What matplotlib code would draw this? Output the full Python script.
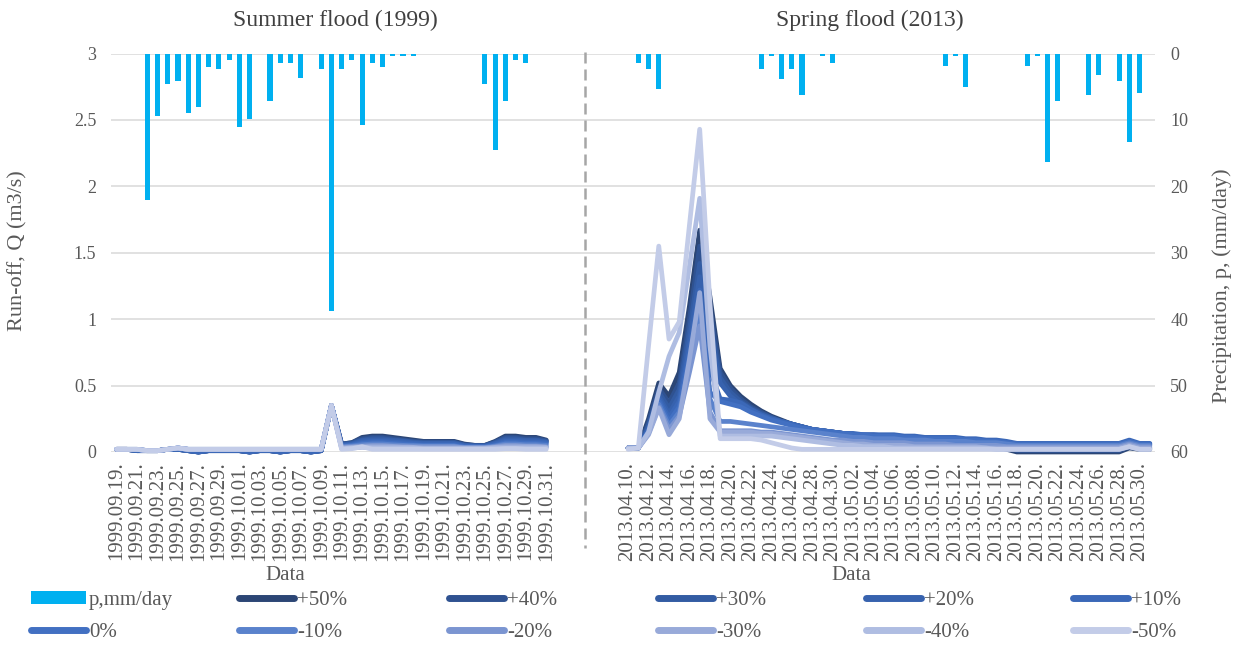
import numpy as np
import pandas as pd
import matplotlib
matplotlib.use("Agg")
import matplotlib.pyplot as plt
from matplotlib.lines import Line2D
from matplotlib.patches import Patch
from matplotlib.ticker import FuncFormatter

plt.rcParams['font.family'] = ['Liberation Serif', 'DejaVu Serif']

# Daily dates of the two flood events
dates_1999 = pd.date_range('1999-09-19', '1999-10-31', freq='D')
dates_2013 = pd.date_range('2013-04-10', '2013-05-31', freq='D')

# Daily precipitation, mm/day
p_1999 = [0, 0, 0, 22.1, 9.4, 4.6, 4.2, 8.9, 8.0, 2.0, 2.4, 1.0, 11.1, 9.8, 0, 7.2, 1.5, 1.5, 3.7, 0, 2.4,
          38.7, 2.4, 1.0, 10.7, 1.5, 2.0, 0.3, 0.3, 0.3, 0, 0, 0, 0, 0, 0, 4.6, 14.6, 7.2, 1.0, 1.5, 0, 0]
p_2013 = [0, 1.5, 2.4, 5.4, 0, 0, 0, 0, 0, 0, 0, 0, 0, 2.4, 0.3, 3.8, 2.4, 6.3, 0, 0.3, 1.5, 0, 0, 0, 0, 0,
          0, 0, 0, 0, 0, 1.9, 0.3, 5.0, 0, 0, 0, 0, 0, 1.9, 0.3, 16.3, 7.2, 0, 0, 6.3, 3.2, 0, 4.1, 13.3, 5.9, 0]

# Run-off Q (m3/s) for the precipitation change scenarios, summer flood 1999
q99_p50 = [0.02, 0.02, 0.01, 0.01, 0.01, 0.02, 0.02, 0.01, 0.00, 0.01, 0.01, 0.01, 0.01, 0.00, 0.01, 0.01, 0.00, 0.01, 0.01, 0.00, 0.01,
           0.35, 0.06, 0.07, 0.11, 0.12, 0.12, 0.11, 0.10, 0.09, 0.08, 0.08, 0.08, 0.08, 0.06, 0.05, 0.05, 0.08, 0.12, 0.12, 0.11, 0.11, 0.09]
q99_p40 = [0.02, 0.02, 0.01, 0.01, 0.01, 0.02, 0.02, 0.01, 0.00, 0.01, 0.01, 0.01, 0.01, 0.00, 0.01, 0.01, 0.00, 0.01, 0.01, 0.00, 0.01,
           0.35, 0.06, 0.07, 0.10, 0.11, 0.11, 0.10, 0.09, 0.08, 0.075, 0.075, 0.075, 0.075, 0.055, 0.05, 0.05, 0.075, 0.11, 0.11, 0.10, 0.10, 0.085]
q99_p30 = [0.02, 0.02, 0.01, 0.01, 0.01, 0.02, 0.02, 0.01, 0.00, 0.01, 0.01, 0.01, 0.01, 0.00, 0.01, 0.01, 0.00, 0.01, 0.01, 0.00, 0.01,
           0.35, 0.055, 0.065, 0.09, 0.10, 0.10, 0.09, 0.085, 0.075, 0.07, 0.07, 0.07, 0.07, 0.05, 0.045, 0.045, 0.07, 0.10, 0.10, 0.09, 0.09, 0.08]
q99_p20 = [0.02, 0.02, 0.01, 0.01, 0.01, 0.02, 0.02, 0.01, 0.00, 0.01, 0.01, 0.01, 0.01, 0.00, 0.01, 0.01, 0.00, 0.01, 0.01, 0.00, 0.01,
           0.35, 0.05, 0.06, 0.085, 0.09, 0.09, 0.085, 0.08, 0.07, 0.065, 0.065, 0.065, 0.065, 0.05, 0.045, 0.045, 0.065, 0.09, 0.09, 0.085, 0.085, 0.075]
q99_p10 = [0.02, 0.02, 0.01, 0.01, 0.01, 0.02, 0.02, 0.01, 0.00, 0.01, 0.01, 0.01, 0.01, 0.00, 0.01, 0.01, 0.00, 0.01, 0.01, 0.00, 0.01,
           0.35, 0.05, 0.055, 0.075, 0.08, 0.08, 0.075, 0.07, 0.065, 0.06, 0.06, 0.06, 0.06, 0.045, 0.04, 0.04, 0.06, 0.08, 0.08, 0.075, 0.075, 0.07]
q99_0 = [0.02, 0.02, 0.02, 0.01, 0.01, 0.02, 0.03, 0.02, 0.02, 0.02, 0.02, 0.02, 0.02, 0.02, 0.02, 0.02, 0.02, 0.02, 0.02, 0.02, 0.02,
         0.35, 0.045, 0.05, 0.065, 0.07, 0.07, 0.065, 0.06, 0.055, 0.05, 0.05, 0.05, 0.05, 0.04, 0.04, 0.04, 0.05, 0.07, 0.07, 0.065, 0.065, 0.06]
q99_m10 = [0.02, 0.02, 0.02, 0.01, 0.01, 0.02, 0.03, 0.02, 0.02, 0.02, 0.02, 0.02, 0.02, 0.02, 0.02, 0.02, 0.02, 0.02, 0.02, 0.02, 0.02,
           0.35, 0.04, 0.045, 0.055, 0.06, 0.06, 0.055, 0.05, 0.05, 0.045, 0.045, 0.045, 0.045, 0.035, 0.035, 0.035, 0.045, 0.06, 0.06, 0.055, 0.055, 0.05]
q99_m20 = [0.02, 0.02, 0.02, 0.01, 0.01, 0.02, 0.03, 0.02, 0.02, 0.02, 0.02, 0.02, 0.02, 0.02, 0.02, 0.02, 0.02, 0.02, 0.02, 0.02, 0.02,
           0.35, 0.035, 0.04, 0.045, 0.05, 0.05, 0.045, 0.045, 0.04, 0.04, 0.04, 0.04, 0.04, 0.03, 0.03, 0.03, 0.04, 0.05, 0.05, 0.045, 0.045, 0.04]
q99_m30 = [0.02, 0.02, 0.02, 0.01, 0.01, 0.02, 0.03, 0.02, 0.02, 0.02, 0.02, 0.02, 0.02, 0.02, 0.02, 0.02, 0.02, 0.02, 0.02, 0.02, 0.02,
           0.35, 0.03, 0.035, 0.04, 0.04, 0.04, 0.04, 0.035, 0.035, 0.03, 0.03, 0.03, 0.03, 0.03, 0.03, 0.03, 0.035, 0.04, 0.04, 0.04, 0.04, 0.035]
q99_m40 = [0.02, 0.02, 0.02, 0.01, 0.01, 0.02, 0.03, 0.02, 0.02, 0.02, 0.02, 0.02, 0.02, 0.02, 0.02, 0.02, 0.02, 0.02, 0.02, 0.02, 0.02,
           0.35, 0.025, 0.03, 0.035, 0.03, 0.03, 0.03, 0.03, 0.03, 0.025, 0.025, 0.025, 0.025, 0.025, 0.025, 0.025, 0.03, 0.03, 0.03, 0.03, 0.03, 0.03]
q99_m50 = [0.02, 0.02, 0.02, 0.01, 0.01, 0.02, 0.03, 0.02, 0.02, 0.02, 0.02, 0.02, 0.02, 0.02, 0.02, 0.02, 0.02, 0.02, 0.02, 0.02, 0.02,
           0.35, 0.02, 0.025, 0.04, 0.02, 0.02, 0.02, 0.02, 0.02, 0.02, 0.02, 0.02, 0.02, 0.02, 0.02, 0.02, 0.02, 0.025, 0.025, 0.02, 0.02, 0.02]

# Run-off Q (m3/s), spring flood 2013
q13_p50 = [0.03, 0.03, 0.25, 0.52, 0.42, 0.60, 1.10, 1.67, 1.17, 0.63, 0.50, 0.42, 0.36, 0.31,
           0.27, 0.24, 0.21, 0.19, 0.17, 0.16, 0.15, 0.14, 0.13, 0.12, 0.11, 0.10, 0.10, 0.09, 0.09, 0.08, 0.08, 0.07, 0.07, 0.06, 0.06, 0.05, 0.04, 0.02,
           0.00, 0.00, 0.00, 0.00, 0.00, 0.00, 0.00, 0.00, 0.00, 0.00, 0.00, 0.03, 0.02, 0.02]
q13_p40 = [0.03, 0.03, 0.22, 0.48, 0.37, 0.52, 1.00, 1.55, 1.08, 0.60, 0.48, 0.40, 0.34, 0.30,
           0.26, 0.23, 0.21, 0.19, 0.17, 0.16, 0.15, 0.14, 0.13, 0.12, 0.11, 0.10, 0.10, 0.09, 0.09, 0.08, 0.08, 0.07, 0.07, 0.06, 0.06, 0.05, 0.05, 0.04,
           0.01, 0.01, 0.01, 0.01, 0.01, 0.01, 0.01, 0.01, 0.01, 0.01, 0.01, 0.04, 0.03, 0.03]
q13_p30 = [0.03, 0.03, 0.20, 0.45, 0.33, 0.47, 0.92, 1.42, 0.98, 0.56, 0.45, 0.38, 0.33, 0.29,
           0.26, 0.23, 0.21, 0.19, 0.17, 0.16, 0.15, 0.14, 0.13, 0.12, 0.12, 0.11, 0.11, 0.10, 0.10, 0.09, 0.09, 0.09, 0.08, 0.08, 0.08, 0.07, 0.07, 0.06,
           0.05, 0.05, 0.05, 0.05, 0.05, 0.05, 0.05, 0.05, 0.05, 0.05, 0.05, 0.07, 0.05, 0.05]
q13_p20 = [0.03, 0.03, 0.18, 0.42, 0.29, 0.42, 0.85, 1.32, 0.88, 0.52, 0.42, 0.36, 0.32, 0.28,
           0.25, 0.23, 0.21, 0.19, 0.17, 0.16, 0.15, 0.14, 0.13, 0.13, 0.13, 0.12, 0.12, 0.11, 0.11, 0.11, 0.10, 0.10, 0.10, 0.09, 0.09, 0.08, 0.08, 0.07,
           0.06, 0.06, 0.06, 0.06, 0.06, 0.06, 0.06, 0.06, 0.06, 0.06, 0.06, 0.08, 0.06, 0.06]
q13_p10 = [0.03, 0.03, 0.17, 0.40, 0.26, 0.38, 0.78, 1.22, 0.62, 0.40, 0.39, 0.37, 0.32, 0.28,
           0.25, 0.23, 0.21, 0.19, 0.17, 0.16, 0.15, 0.14, 0.14, 0.13, 0.13, 0.13, 0.13, 0.12, 0.12, 0.11, 0.11, 0.11, 0.11, 0.10, 0.10, 0.09, 0.09, 0.08,
           0.065, 0.065, 0.065, 0.065, 0.065, 0.065, 0.065, 0.065, 0.065, 0.065, 0.065, 0.09, 0.065, 0.065]
q13_0 = [0.03, 0.03, 0.16, 0.38, 0.23, 0.34, 0.72, 1.12, 0.45, 0.38, 0.36, 0.34, 0.30, 0.27,
         0.24, 0.22, 0.20, 0.18, 0.17, 0.16, 0.15, 0.14, 0.13, 0.13, 0.12, 0.12, 0.12, 0.11, 0.11, 0.10, 0.10, 0.10, 0.10, 0.09, 0.09, 0.08, 0.08, 0.07,
         0.06, 0.06, 0.06, 0.06, 0.06, 0.06, 0.06, 0.06, 0.06, 0.06, 0.06, 0.08, 0.06, 0.06]
q13_m10 = [0.03, 0.03, 0.15, 0.36, 0.20, 0.30, 0.66, 1.03, 0.40, 0.23, 0.23, 0.22, 0.21, 0.20,
           0.19, 0.18, 0.17, 0.16, 0.15, 0.14, 0.13, 0.12, 0.11, 0.11, 0.10, 0.10, 0.10, 0.09, 0.09, 0.09, 0.08, 0.08, 0.08, 0.08, 0.07, 0.07, 0.07, 0.06,
           0.05, 0.05, 0.05, 0.05, 0.05, 0.05, 0.05, 0.05, 0.05, 0.05, 0.05, 0.07, 0.05, 0.05]
q13_m20 = [0.03, 0.03, 0.14, 0.34, 0.17, 0.27, 0.60, 0.95, 0.30, 0.16, 0.16, 0.16, 0.16, 0.15,
           0.15, 0.14, 0.13, 0.12, 0.11, 0.10, 0.09, 0.09, 0.08, 0.08, 0.07, 0.07, 0.07, 0.07, 0.06, 0.06, 0.06, 0.06, 0.05, 0.05, 0.05, 0.05, 0.05, 0.04,
           0.04, 0.04, 0.04, 0.04, 0.04, 0.04, 0.04, 0.04, 0.04, 0.04, 0.04, 0.06, 0.04, 0.04]
q13_m30 = [0.03, 0.03, 0.13, 0.33, 0.13, 0.25, 0.70, 1.20, 0.25, 0.15, 0.15, 0.15, 0.15, 0.14,
           0.14, 0.13, 0.12, 0.11, 0.10, 0.09, 0.08, 0.07, 0.06, 0.06, 0.05, 0.05, 0.05, 0.05, 0.04, 0.04, 0.04, 0.04, 0.04, 0.04, 0.04, 0.03, 0.03, 0.03,
           0.03, 0.03, 0.03, 0.03, 0.03, 0.03, 0.03, 0.03, 0.03, 0.03, 0.03, 0.05, 0.03, 0.03]
q13_m40 = [0.03, 0.03, 0.15, 0.45, 0.72, 0.90, 1.40, 1.91, 0.80, 0.12, 0.12, 0.12, 0.12, 0.12,
           0.12, 0.11, 0.10, 0.09, 0.08, 0.07, 0.06, 0.05, 0.05, 0.04, 0.04, 0.04, 0.03, 0.03, 0.03, 0.03, 0.03, 0.03, 0.03, 0.03, 0.03, 0.03, 0.02, 0.02,
           0.02, 0.02, 0.02, 0.02, 0.02, 0.02, 0.02, 0.02, 0.02, 0.02, 0.02, 0.04, 0.02, 0.02]
q13_m50 = [0.02, 0.03, 0.80, 1.55, 0.85, 0.98, 1.71, 2.43, 1.12, 0.10, 0.10, 0.10, 0.10, 0.09,
           0.07, 0.05, 0.03, 0.02, 0.02, 0.02, 0.02, 0.02, 0.02, 0.02, 0.02, 0.02, 0.02, 0.02, 0.02, 0.02, 0.02, 0.02, 0.02, 0.02, 0.02, 0.02, 0.02, 0.02,
           0.02, 0.02, 0.02, 0.02, 0.02, 0.02, 0.02, 0.02, 0.02, 0.02, 0.02, 0.04, 0.02, 0.02]

scenarios = ['+50%', '+40%', '+30%', '+20%', '+10%', '0%', '-10%', '-20%', '-30%', '-40%', '-50%']
colors = ['#2c4675', '#2f5291', '#335ca3', '#3762ae', '#3b68b8', '#4270c2',
          '#5a82cc', '#7b95d1', '#98aad9', '#afbde2', '#c3cce8']
runoff_1999 = [q99_p50, q99_p40, q99_p30, q99_p20, q99_p10, q99_0, q99_m10, q99_m20, q99_m30, q99_m40, q99_m50]
runoff_2013 = [q13_p50, q13_p40, q13_p30, q13_p20, q13_p10, q13_0, q13_m10, q13_m20, q13_m30, q13_m40, q13_m50]

bar_color = '#00B0F0'
text_color = '#595959'

# both events share one category axis, the 2013 block starts after a gap
x_1999 = np.arange(len(dates_1999))
x_2013 = np.arange(len(dates_2013)) + 50

fig = plt.figure(figsize=(12.4, 6.51), dpi=100)
ax = fig.add_axes([0.0899, 0.3057, 0.8415, 0.6121])
axp = ax.twinx()

for q99, q13, c in zip(runoff_1999, runoff_2013, colors):
    ax.plot(x_1999, q99, color=c, lw=3.4, solid_joinstyle='round', solid_capstyle='round', clip_on=False)
    ax.plot(x_2013, q13, color=c, lw=3.4, solid_joinstyle='round', solid_capstyle='round', clip_on=False)

axp.bar(x_1999, p_1999, width=0.5, color=bar_color)
axp.bar(x_2013, p_2013, width=0.5, color=bar_color)

ax.set_xlim(-0.5, 101.5)
ax.set_ylim(0, 3)
axp.set_ylim(60, 0)

ax.set_yticks(np.arange(0, 3.01, 0.5))
ax.yaxis.set_major_formatter(FuncFormatter(lambda v, pos: f'{v:g}'))
axp.set_yticks(range(0, 61, 10))

ax.grid(axis='y', color='#d9d9d9', lw=1.1)
ax.set_axisbelow(True)
for a in (ax, axp):
    for s in a.spines.values():
        s.set_visible(False)

tick_pos = list(x_1999[::2]) + list(x_2013[:51:2])
tick_lab = [d.strftime('%Y.%m.%d.') for d in dates_1999[::2]] + \
           [d.strftime('%Y.%m.%d.') for d in dates_2013[:51:2]]
ax.set_xticks(tick_pos)
ax.set_xticklabels(tick_lab, rotation=90, fontsize=15, color=text_color)
ax.tick_params(axis='x', length=0, pad=7)
ax.tick_params(axis='y', length=0, pad=11, labelsize=13, labelcolor=text_color)
axp.tick_params(axis='y', length=0, pad=11, labelsize=13, labelcolor=text_color)

# dashed separator between the two events
ax.plot([45.8, 45.8], [1.005, -0.24], transform=ax.get_xaxis_transform(),
        color='#a6a6a6', lw=1.8, ls=(0, (4.4, 2.4)), clip_on=False)

W, H = 1240, 651
fig.text(335 / W, 1 - 20 / H, 'Summer flood (1999)', ha='center', va='center', fontsize=17, color='#404040')
fig.text(870 / W, 1 - 20 / H, 'Spring flood (2013)', ha='center', va='center', fontsize=17, color='#404040')
fig.text(285 / W, 1 - 575 / H, 'Data', ha='center', va='center', fontsize=15, color=text_color)
fig.text(851 / W, 1 - 575 / H, 'Data', ha='center', va='center', fontsize=15, color=text_color)
fig.text(18 / W, 1 - 251 / H, 'Run-off, Q (m3/s)', rotation=90, ha='center', va='center', fontsize=16, color=text_color)
fig.text(1222 / W, 1 - 286 / H, 'Precipitation, p, (mm/day)', rotation=90, ha='center', va='center', fontsize=16, color=text_color)

# legend: six columns, two rows
handles = [Patch(facecolor=bar_color, edgecolor='none')] + \
          [Line2D([], [], color=c, lw=5, solid_capstyle='round') for c in colors]
labels = ['p,mm/day'] + scenarios
col_x = [31, 239, 449, 658, 866, 1073]
for j, cx in enumerate(col_x):
    idx = [j, j + 6]
    fig.legend([handles[i] for i in idx], [labels[i] for i in idx],
               loc='upper left', bbox_to_anchor=(cx / W, 1 - 591 / H),
               frameon=False, fontsize=15, labelcolor=text_color,
               handlelength=2.64, handleheight=0.53, handletextpad=0.15,
               labelspacing=0.62, borderpad=0, borderaxespad=0)

fig.savefig('out.png', dpi=100)
